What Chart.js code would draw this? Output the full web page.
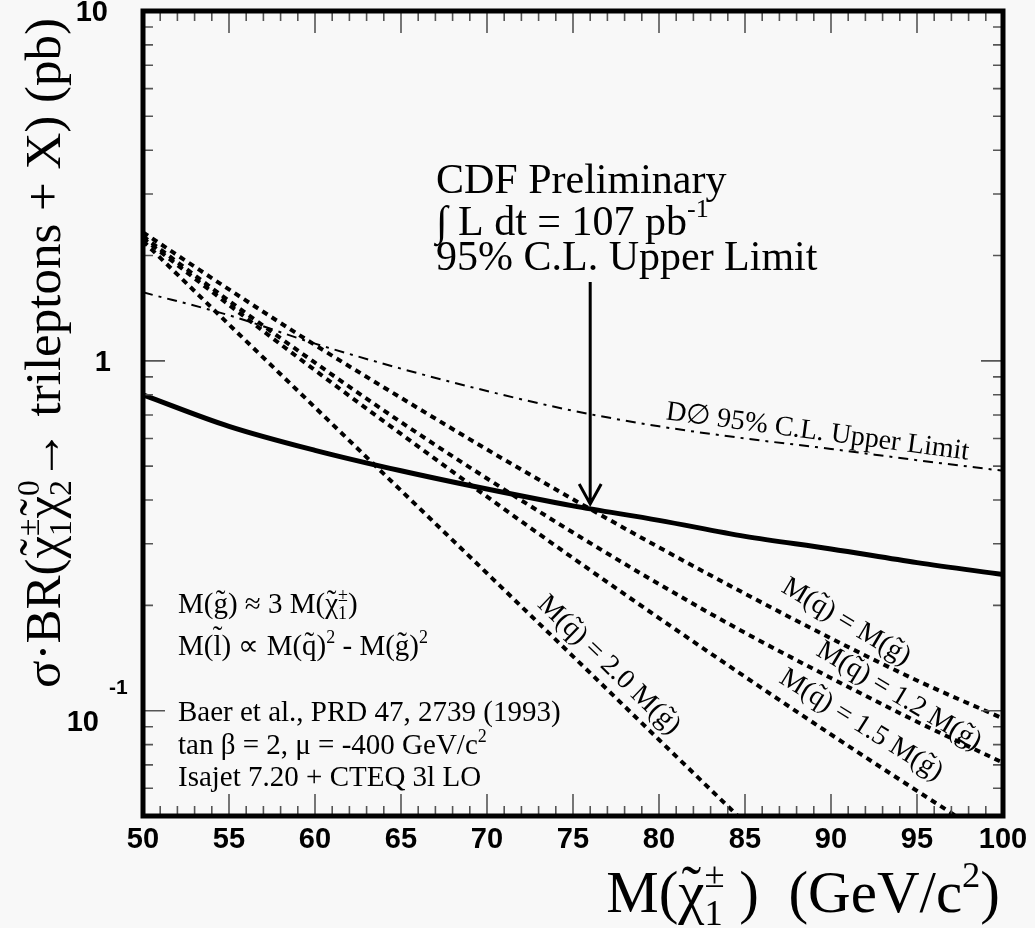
<!DOCTYPE html>
<html>
<head>
<meta charset="utf-8">
<script src="https://cdn.jsdelivr.net/npm/chart.js@4"></script>
<style>
  html, body { margin: 0; padding: 0; background: #f8f8f8; }
  #wrap { width: 1035px; height: 928px; }
</style>
</head>
<body>
<div id="wrap"><canvas id="xsec" width="1035" height="928"></canvas></div>
<script>
// chargino mass (GeV/c^2) and sigma*BR (pb)
const masses = [50, 55, 60, 65, 70, 75, 80, 85, 90, 95, 100];
const cdfLimit = [0.80, 0.65, 0.555, 0.485, 0.43, 0.385, 0.35, 0.315, 0.29, 0.265, 0.245];
const d0Limit  = [1.57, 1.35, 1.12, 0.95, 0.82, 0.72, 0.65, 0.60, 0.56, 0.52, 0.485];
const sqEqGl   = [2.33, 1.60, 1.11, 0.784, 0.558, 0.402, 0.293, 0.216, 0.161, 0.122, 0.095];
const sq12Gl   = [2.27, 1.485, 0.988, 0.668, 0.461, 0.323, 0.230, 0.167, 0.124, 0.093, 0.071];
const sq15Gl   = [2.24, 1.445, 0.940, 0.618, 0.409, 0.273, 0.184, 0.125, 0.0855, 0.059, 0.041];
const sq20Gl   = [2.20, 1.27, 0.736, 0.426, 0.247, 0.143, 0.0826, 0.0478, 0.0277, 0.016, 0.0093];

const xTickValues = [50, 55, 60, 65, 70, 75, 80, 85, 90, 95, 100];
const yTickValues = [10, 1, 0.1];
const yTickLabels = ['10', '1', '10^-1'];

const SERIF = '"Liberation Serif", "Times New Roman", serif';
const SANS = '"Liberation Sans", Arial, sans-serif';

function pts(vals) {
  return masses.map((m, i) => ({ x: m, y: vals[i] }));
}

// little rich text: parts are strings or [text, mode]
// modes: u = superscript, U = superscript that does not advance (stack with next d),
//        d = subscript, t = tilde over, T = high tilde over
function layoutRich(ctx, parts, size) {
  let x = 0, pend = null;
  const items = [];
  for (const p of parts) {
    const t = Array.isArray(p) ? p[0] : p;
    const m = Array.isArray(p) ? p[1] : '';
    let s = size, dy = 0;
    if (/[uU]/.test(m)) { s = size * 0.62; dy = -size * 0.42; }
    if (m.includes('d')) { s = size * 0.62; dy = size * 0.22; }
    ctx.font = s + 'px ' + SERIF;
    const w = ctx.measureText(t).width;
    let x0 = x;
    if (pend && m.includes('d')) x0 = pend.x;
    items.push({ t, s, dy, x: x0, w, tilde: m.includes('t') ? 1 : m.includes('T') ? 2 : 0 });
    if (m.includes('U')) { pend = { x: x0, end: x0 + w }; x = x0; }
    else if (pend && m.includes('d')) { x = Math.max(pend.end, x0 + w); pend = null; }
    else x = x0 + w;
  }
  return { items, width: x };
}

function drawRich(ctx, parts, x, y, size, align) {
  const L = layoutRich(ctx, parts, size);
  let ox = x;
  if (align === 'center') ox = x - L.width / 2;
  if (align === 'right') ox = x - L.width;
  ctx.textAlign = 'left';
  ctx.textBaseline = 'alphabetic';
  for (const it of L.items) {
    ctx.font = it.s + 'px ' + SERIF;
    ctx.fillText(it.t, ox + it.x, y + it.dy);
    if (it.tilde) {
      const tw = ctx.measureText('\u02DC').width;
      const lift = it.tilde === 2 ? 0.3 : 0.1;
      ctx.fillText('\u02DC', ox + it.x + (it.w - tw) / 2, y + it.dy - it.s * lift);
    }
  }
}

const decor = {
  id: 'decor',
  afterDatasetsDraw(chart) {
    const { ctx, chartArea: a, scales: { x, y } } = chart;
    ctx.save();
    ctx.fillStyle = '#000';

    // ticks on all four sides, pointing in
    ctx.strokeStyle = '#555';
    ctx.lineWidth = 1.6;
    ctx.beginPath();
    for (let v = 50; v <= 100; v++) {
      const px = x.getPixelForValue(v);
      const len = v % 5 === 0 ? 22 : 10;
      ctx.moveTo(px, a.bottom); ctx.lineTo(px, a.bottom - len);
      ctx.moveTo(px, a.top); ctx.lineTo(px, a.top + len);
    }
    for (let dec = 0.01; dec <= 1; dec *= 10) {
      for (let k = 1; k <= 9; k++) {
        const v = k * dec;
        if (v < 0.05 - 1e-9 || v > 10 + 1e-9) continue;
        const py = y.getPixelForValue(v);
        const len = k === 1 ? 22 : 10;
        ctx.moveTo(a.left, py); ctx.lineTo(a.left + len, py);
        ctx.moveTo(a.right, py); ctx.lineTo(a.right - len, py);
      }
    }
    ctx.stroke();

    // frame
    ctx.strokeStyle = '#000';
    ctx.lineWidth = 5;
    ctx.strokeRect(a.left, a.top, a.right - a.left, a.bottom - a.top);

    // tick labels
    ctx.font = 'bold 29px ' + SANS;
    ctx.textAlign = 'center';
    ctx.textBaseline = 'middle';
    xTickValues.forEach(v => ctx.fillText(String(v), x.getPixelForValue(v), 840));
    yTickValues.forEach((v, i) => {
      const py = y.getPixelForValue(v);
      const lab = yTickLabels[i].split('^');
      ctx.textAlign = 'right';
      ctx.font = 'bold 29px ' + SANS;
      if (lab.length === 1) {
        ctx.fillText(lab[0], lab[0].length > 1 ? 108 : 111, py + 2);
      } else {
        ctx.fillText(lab[0], 99, py + 12);
        ctx.textAlign = 'left';
        ctx.font = 'bold 21px ' + SANS;
        ctx.fillText(lab[1], 109, py - 22);
      }
    });

    // axis titles
    ctx.save();
    ctx.translate(60, 353);
    ctx.rotate(-Math.PI / 2);
    drawRich(ctx, ['\u03C3\u00B7BR(', ['\u03C7', 't'], ['\u00B1', 'U'], ['1', 'd'],
      ['\u03C7', 't'], ['0', 'U'], ['2', 'd'], '\u2192 trileptons + X) (pb)'], 0, 0, 51, 'center');
    ctx.restore();
    drawRich(ctx, ['M(', ['\u03C7', 't'], ['\u00B1', 'U'], ['1', 'd'], ' )  (GeV/c', ['2', 'u'], ')'],
      1000, 912, 59, 'right');

    // CDF annotation + arrow
    drawRich(ctx, ['CDF Preliminary'], 436, 193, 42);
    drawRich(ctx, ['\u222B L dt = 107 pb', ['-1', 'u']], 436, 235, 42);
    drawRich(ctx, ['95% C.L. Upper Limit'], 436, 270, 42);
    const ax = x.getPixelForValue(76);
    const top = y.getPixelForValue(1.68), tip = y.getPixelForValue(0.39);
    ctx.lineWidth = 3;
    ctx.beginPath();
    ctx.moveTo(ax, top); ctx.lineTo(ax, tip);
    ctx.moveTo(ax - 11, tip - 20); ctx.lineTo(ax, tip); ctx.lineTo(ax + 11, tip - 20);
    ctx.stroke();

    // model notes
    drawRich(ctx, ['M(', ['g', 't'], ') \u2248 3 M(', ['\u03C7', 't'], ['\u00B1', 'U'], ['1', 'd'], ')'], 178, 613, 29);
    drawRich(ctx, ['M(', ['l', 'T'], ') \u221D M(', ['q', 't'], ')', ['2', 'u'], ' - M(', ['g', 't'], ')', ['2', 'u']], 178, 655, 29);
    drawRich(ctx, ['Baer et al., PRD 47, 2739 (1993)'], 178, 721, 29);
    drawRich(ctx, ['tan \u03B2 = 2, \u03BC = -400 GeV/c', ['2', 'u']], 178, 754, 29);
    drawRich(ctx, ['Isajet 7.20 + CTEQ 3l LO'], 178, 786, 29);

    // rotated curve labels (anchored in data coordinates)
    const curveLabels = [
      { parts: ['D\u2205 95% C.L. Upper Limit'], mx: 89.16, v: 0.596, ang: 7.6, dy: 0 },
      { parts: ['M(', ['q', 't'], ') = M(', ['g', 't'], ')'], mx: 90.93, v: 0.181, ang: 31, dy: 9 },
      { parts: ['M(', ['q', 't'], ') = 1.2 M(', ['g', 't'], ')'], mx: 94.0, v: 0.111, ang: 31, dy: 9 },
      { parts: ['M(', ['q', 't'], ') = 1.5 M(', ['g', 't'], ')'], mx: 91.8, v: 0.0918, ang: 32, dy: 9 },
      { parts: ['M(', ['q', 't'], ') = 2.0 M(', ['g', 't'], ')'], mx: 77.15, v: 0.136, ang: 44, dy: 9 }
    ];
    curveLabels.forEach(l => {
      ctx.save();
      ctx.translate(x.getPixelForValue(l.mx), y.getPixelForValue(l.v));
      ctx.rotate(l.ang * Math.PI / 180);
      drawRich(ctx, l.parts, 0, l.dy, 28, 'center');
      ctx.restore();
    });

    ctx.restore();
  }
};

const dashed = { borderColor: '#000', borderWidth: 4, borderDash: [6, 5], cubicInterpolationMode: 'monotone' };

new Chart(document.getElementById('xsec'), {
  type: 'line',
  data: {
    datasets: [
      { label: 'CDF 95% C.L.', data: pts(cdfLimit), borderColor: '#000', borderWidth: 5, cubicInterpolationMode: 'monotone' },
      { label: 'D0 95% C.L.', data: pts(d0Limit), borderColor: '#000', borderWidth: 2, borderDash: [10, 6, 3, 6], cubicInterpolationMode: 'monotone' },
      { label: 'Mq = Mg', data: pts(sqEqGl), ...dashed },
      { label: 'Mq = 1.2 Mg', data: pts(sq12Gl), ...dashed },
      { label: 'Mq = 1.5 Mg', data: pts(sq15Gl), ...dashed },
      { label: 'Mq = 2.0 Mg', data: pts(sq20Gl), ...dashed }
    ]
  },
  options: {
    responsive: false,
    animation: false,
    layout: { padding: { left: 143, right: 32, top: 11, bottom: 112 } },
    scales: {
      x: { type: 'linear', min: 50, max: 100, display: false },
      y: { type: 'logarithmic', min: 0.05, max: 10, display: false }
    },
    elements: { point: { radius: 0 } },
    plugins: { legend: { display: false }, tooltip: { enabled: false } }
  },
  plugins: [decor]
});
</script>
</body>
</html>
